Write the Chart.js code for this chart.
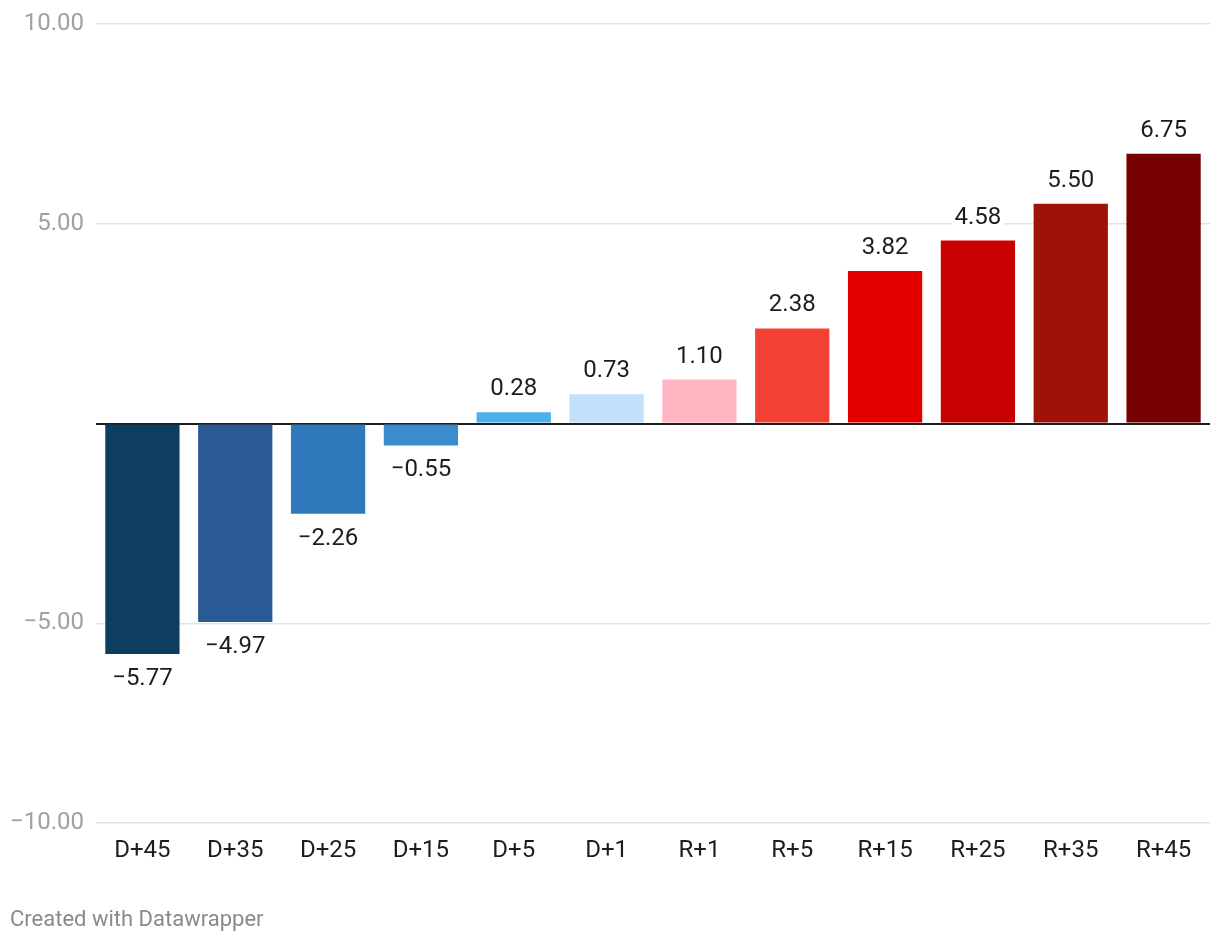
<!DOCTYPE html>
<html>
<head>
<meta charset="utf-8">
<script src="https://cdn.jsdelivr.net/npm/chart.js@4/dist/chart.umd.min.js"></script>
<style>
  body { margin: 0; background: #fff; }
  #wrap { position: relative; width: 1220px; height: 944px; }
  #foot { position: absolute; left: 10px; top: 906px; font: 22px Roboto, sans-serif; color: #8a8a8a; }
</style>
</head>
<body>
<div id="wrap">
  <canvas id="chart" width="1220" height="944"></canvas>
  <div id="foot">Created with Datawrapper</div>
</div>
<script>
const categories = ['D+45', 'D+35', 'D+25', 'D+15', 'D+5', 'D+1', 'R+1', 'R+5', 'R+15', 'R+25', 'R+35', 'R+45'];
const values = [-5.77, -4.97, -2.26, -0.55, 0.28, 0.73, 1.10, 2.38, 3.82, 4.58, 5.50, 6.75];
const barColors = ['#0e3e5f', '#2a5b94', '#2e78bb', '#3a8ccf', '#4bb0ec', '#c2e0fb',
                   '#ffb5c2', '#f34235', '#e50000', '#c80000', '#a01208', '#770000'];
const yTicks = [-10, -5, 0, 5, 10];

function fmt(v) {
  return v.toFixed(2).replace('-', '\u2212');
}

// value labels with white box behind them
const valueLabels = {
  id: 'valueLabels',
  afterDatasetsDraw(chart) {
    const c = chart.ctx;
    const meta = chart.getDatasetMeta(0);
    c.save();
    c.font = '24px Roboto, sans-serif';
    c.textAlign = 'center';
    c.textBaseline = 'middle';
    meta.data.forEach(function(bar, i) {
      const v = values[i];
      const y = v >= 0 ? bar.y - 23 : bar.y + 25;
      const t = fmt(v);
      const w = c.measureText(t).width;
      c.fillStyle = '#fff';
      c.fillRect(bar.x - w / 2 - 3, y - 12, w + 6, 24);
      c.fillStyle = '#1d1d1d';
      c.fillText(t, bar.x, y);
    });
    c.restore();
  }
};

new Chart(document.getElementById('chart'), {
  type: 'bar',
  data: {
    labels: categories,
    datasets: [{
      data: values,
      backgroundColor: barColors,
      borderWidth: 0,
      barPercentage: 0.8,
      categoryPercentage: 1
    }]
  },
  options: {
    responsive: false,
    animation: false,
    layout: { padding: { top: 24, right: 10, left: 0, bottom: 0 } },
    plugins: { legend: { display: false }, tooltip: { enabled: false } },
    scales: {
      x: {
        grid: { display: false },
        border: { display: false },
        ticks: { color: '#1d1d1d', font: { family: 'Roboto', size: 24 }, padding: 6, maxRotation: 0 },
        afterFit(scale) { scale.height = 121; }
      },
      y: {
        min: -10, max: 10,
        afterBuildTicks(scale) { scale.ticks = yTicks.map(v => ({ value: v })); },
        grid: {
          drawTicks: false,
          color: ctx => ctx.tick.value === 0 ? '#1d1d1d' : '#e2e2e2',
          lineWidth: ctx => ctx.tick.value === 0 ? 2 : 1.5
        },
        border: { display: false },
        ticks: {
          color: '#a0a0a0',
          font: { family: 'Roboto', size: 24 },
          padding: 12,
          callback: v => v === 0 ? '' : fmt(v)
        },
        afterFit(scale) {
          scale.width = 96;
          scale.paddingTop = 0;
          scale.paddingBottom = 0;
        }
      }
    }
  },
  plugins: [valueLabels]
});
</script>
</body>
</html>
